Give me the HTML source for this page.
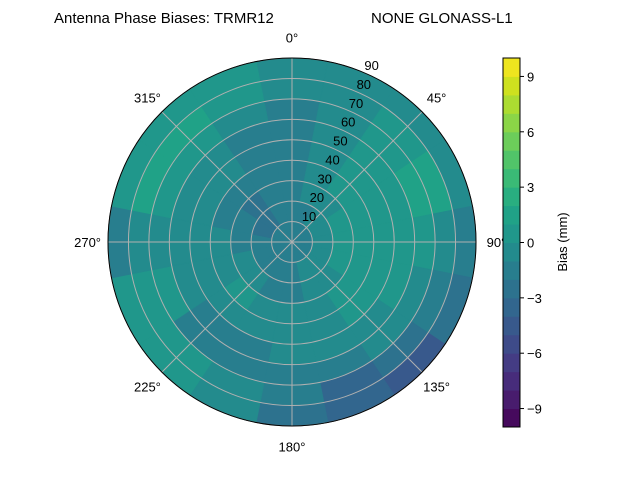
<!DOCTYPE html>
<html><head><meta charset="utf-8"><style>
body{margin:0;background:#fff;}
svg text{font-family:"Liberation Sans","DejaVu Sans",sans-serif;font-size:13px;fill:#000;}
</style></head><body>
<svg id="chart" width="640" height="480" viewBox="0 0 640 480">
<text x="54" y="23" style="font-size:15px">Antenna Phase Biases: TRMR12</text>
<text x="371" y="23" style="font-size:15px">NONE GLONASS-L1</text>
<g id="plot"></g>
<g id="cbar"></g>
</svg>
<script>
// azimuth bins (deg, clockwise from north), zenith rings (deg)
const azimuths = [0,22.5,45,67.5,90,112.5,135,157.5,180,202.5,225,247.5,270,292.5,315,337.5];
const zeniths = [5,15,25,35,45,55,65,75,85];
// bias values (mm): one row per zenith ring, columns follow azimuths
const ring05 = [-1.5,-1.5,-1.5,-1.3,-1.2,-1.2,-1.2,-1.2,-1.2,-1.2,-1.3,-1.4,-1.5,-1.6,-1.7,-1.6];
const ring15 = [-1.6,-1.2,-0.8,-0.5,-0.6,-0.8,-0.9,-1.0,-1.2,-1.3,-1.2,-1.4,-1.8,-2.2,-2.3,-2.0];
const ring25 = [-1.5,-0.8,-0.3,0.2,0.3,0.2,-0.4,-0.9,-1.2,-1.4,-0.6,-0.9,-1.5,-2.0,-2.3,-2.0];
const ring35 = [-1.2,-0.5,0.0,0.5,0.5,0.5,0.3,-0.6,-1.0,-1.0,0.0,-0.5,-1.0,-1.2,-1.6,-1.5];
const ring45 = [-1.5,-0.4,0.2,0.5,0.6,0.6,0.3,-0.3,-0.8,-1.0,-0.5,-0.3,-0.6,-0.8,-1.0,-1.6];
const ring55 = [-1.8,-0.8,0.0,0.6,0.3,0.0,-0.4,-0.8,-1.0,-1.2,-1.2,-0.5,-0.5,-0.4,-0.8,-1.8];
const ring65 = [-1.2,-0.8,0.4,1.2,0.2,-0.6,-1.0,-1.6,-1.5,-1.5,-1.3,0.2,-0.2,0.6,0.9,-0.8];
const ring75 = [-0.6,-0.6,0.6,1.4,-0.4,-1.6,-2.6,-3.2,-2.0,-1.0,0.2,0.6,-0.3,1.2,1.8,0.2];
const ring85 = [-0.8,-1.0,-0.5,-0.7,-1.8,-3.0,-4.2,-4.0,-2.3,-0.8,0.6,0.2,-1.8,0.6,0.9,0.3];
const rings = [ring05,ring15,ring25,ring35,ring45,ring55,ring65,ring75,ring85];
const rTicks = [10,20,30,40,50,60,70,80,90];
const angTicks = [0,45,90,135,180,225,270,315];
const cbTicks = [-9,-6,-3,0,3,6,9];
const levelMin=-10, levelMax=10;

const NS="http://www.w3.org/2000/svg";
const cx=292, cy=242, R=184;
const vir=["#440154","#471365","#482475","#463480","#414487","#3b528b","#355f8d","#2f6c8e","#2a788e","#25848e","#21918c","#1e9c89","#22a884","#2fb47c","#44bf70","#5ec962","#7ad151","#9bd93c","#bddf26","#dfe318","#fde725"];
function hx(h){return [1,3,5].map(i=>parseInt(h.substr(i,2),16));}
function vcol(t){t=Math.max(0,Math.min(1,t));const p=t*20,i=Math.min(19,Math.floor(p)),f=p-i;const a=hx(vir[i]),b=hx(vir[i+1]);return "rgb("+a.map((x,k)=>Math.round(x+(b[k]-x)*f)).join(",")+")";}
function bandColor(v){let k=Math.floor(v-levelMin);k=Math.max(0,Math.min(19,k));return vcol((k+0.5)/20);}
function rScale(z){return R*z/90;}
function pt(az,z){const a=az*Math.PI/180,r=rScale(z);return [cx+r*Math.sin(a),cy-r*Math.cos(a)];}
function mk(tag,attrs,parent){const e=document.createElementNS(NS,tag);for(const k in attrs)e.setAttribute(k,attrs[k]);parent.appendChild(e);return e;}
const plot=document.getElementById('plot');
const dAz=360/azimuths.length, dZ=10;
rings.forEach((row,ri)=>{
  row.forEach((v,ai)=>{
    const a0=azimuths[ai]-dAz/2,a1=azimuths[ai]+dAz/2,z0=zeniths[ri]-dZ/2,z1=zeniths[ri]+dZ/2;
    const p1=pt(a0,z1),p2=pt(a1,z1),p3=pt(a1,z0),p4=pt(a0,z0);
    const r1=rScale(z1),r0=rScale(z0);
    let d="M"+p1+" A"+r1+","+r1+" 0 0 1 "+p2+" L"+p3;
    if(r0>0)d+=" A"+r0+","+r0+" 0 0 0 "+p4;
    d+=" Z";
    const c=bandColor(v);
    const e=mk('path',{d:d,fill:c,stroke:c,'stroke-width':0.8},plot);
    
    
  });
});
rTicks.forEach(z=>{
  const e=mk('circle',{cx:cx,cy:cy,r:rScale(z),fill:'none',stroke:'#b0b0b0','stroke-width':1},plot);
  
  
});
angTicks.forEach(a=>{
  const p=pt(a,90);
  const e=mk('line',{x1:cx,y1:cy,x2:p[0],y2:p[1],stroke:'#b0b0b0','stroke-width':1},plot);
  
  
  const q=pt(a,100);
  const t=mk('text',{x:q[0],y:q[1]+5,'text-anchor':'middle'},plot);t.textContent=a+"°";
  
  
});
rTicks.forEach(z=>{
  const p=pt(22.5,z);
  const t=mk('text',{x:p[0]+2,y:p[1]-2,'text-anchor':'start'},plot);t.textContent=z;
  
  
});
const rim=mk('circle',{cx:cx,cy:cy,r:R,fill:'none',stroke:'#000','stroke-width':1},plot);


// colorbar
const cb=document.getElementById('cbar');
const cbx=503,cby=58,cbw=17,cbh=369;
function cbY(v){return cby+cbh*(levelMax-v)/(levelMax-levelMin);}
for(let v=levelMin;v<levelMax;v++){
  const e=mk('rect',{x:cbx,y:cbY(v+1),width:cbw,height:cbY(v)-cbY(v+1)+0.5,fill:bandColor(v+0.5)},cb);
  
  
}
const fr=mk('rect',{x:cbx,y:cby,width:cbw,height:cbh,fill:'none',stroke:'#000','stroke-width':1},cb);


cbTicks.forEach(v=>{
  const y=cbY(v);
  mk('line',{x1:cbx+cbw,y1:y,x2:cbx+cbw+4,y2:y,stroke:'#000'},cb);
  const t=mk('text',{x:cbx+cbw+7,y:y+5},cb);t.textContent=(v<0?"−"+(-v):v);
  
  
});
const lab=mk('text',{x:0,y:0,transform:'translate(567,242) rotate(-90)','text-anchor':'middle'},cb);
lab.textContent="Bias (mm)";


</script>
</body></html>
